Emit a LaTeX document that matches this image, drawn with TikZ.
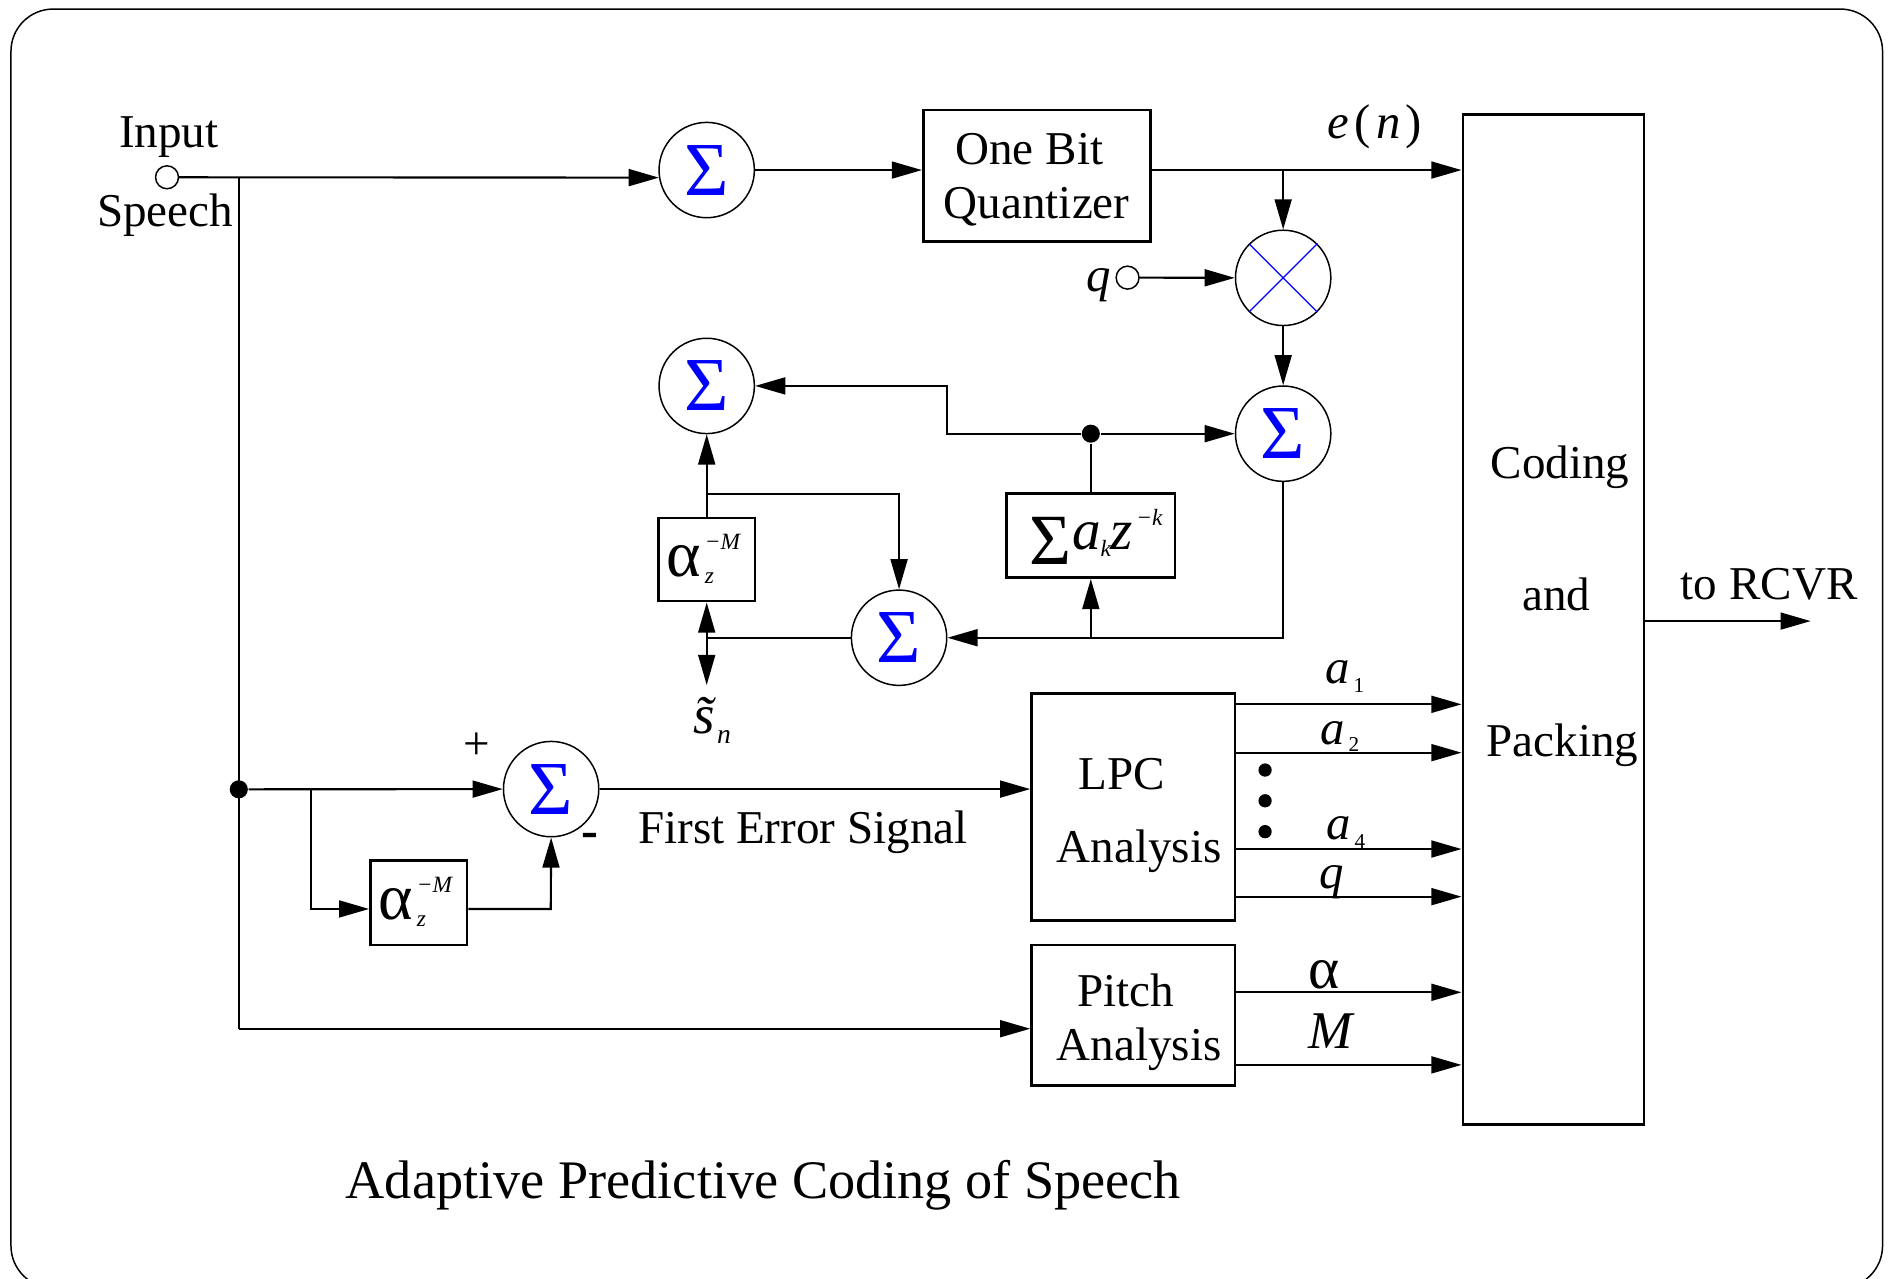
\documentclass[tikz,border=0pt]{standalone}
\usepackage{fontspec}
\setmainfont{Liberation Serif}
\usetikzlibrary{arrows.meta}
\newcommand{\alphaz}{{\fontsize{15.5}{16}\selectfont α}\kern0.9pt\rlap{\raisebox{6.3pt}{\fontsize{5.5}{5.5}\selectfont\itshape −M}}\raisebox{-1.7pt}{\fontsize{5.5}{5.5}\selectfont\itshape z}}
\begin{document}
\begin{tikzpicture}[x=0.01cm,y=-0.01cm,
  conn/.style={line width=0.5pt},
  arr/.style={conn,-{Triangle[length=0.25cm,width=0.14cm]}},
  sumc/.style={circle,draw,line width=0.35pt,minimum size=0.79cm,inner sep=0pt,text=blue,font=\fontsize{18}{18}\selectfont},
  hollow/.style={circle,draw,fill=white,line width=0.35pt,minimum size=0.19cm,inner sep=0pt},
  jdot/.style={circle,fill=black,minimum size=0.15cm,inner sep=0pt},
  sdot/.style={circle,fill=black,minimum size=0.11cm,inner sep=0pt},
  blk/.style={draw,line width=0.6pt,inner sep=0pt},
  lbl/.style={inner sep=0pt,anchor=base,font=\fontsize{11.1}{12}\selectfont},
  captext/.style={inner sep=0pt,anchor=base,font=\fontsize{12.8}{14}\selectfont},
  bw/.style={inner sep=0pt,anchor=base west}]
\useasboundingbox (0,0) rectangle (1568,1060);
\begin{scope}
\clip (0,0) rectangle (1568,1060);
\draw[line width=0.35pt,rounded corners=0.35cm] (9.1,7.5) rectangle (1561,1068);
\end{scope}

% ---------- blocks ----------
\node[blk,minimum width=1.885cm,minimum height=1.092cm] (quant) at (859.85,145.8) {};
\node[blk,minimum width=1.686cm,minimum height=1.88cm] (lpc) at (939.7,669) {};
\node[blk,minimum width=1.686cm,minimum height=1.164cm] (pitch) at (939.7,841.8) {};
\node[blk,minimum width=1.503cm,minimum height=8.369cm] (code) at (1288.15,513.55) {};
\node[blk,minimum width=1.396cm,minimum height=0.697cm] (sbox) at (904.5,444.15) {};
\node[blk,minimum width=0.8cm,minimum height=0.69cm] (ab1) at (586,464) {};
\node[blk,minimum width=0.8cm,minimum height=0.699cm] (ab2) at (347.2,748.65) {};

% ---------- summers ----------
\node[sumc] (s1) at (586,141) {Σ};
\node[sumc] (s2) at (586,320) {Σ};
\node[sumc] (s3) at (1064,359.6) {Σ};
\node[sumc] (s4) at (745.5,528.8) {Σ};
\node[sumc] (s5) at (457,654.3) {Σ};
\node[circle,draw,line width=0.35pt,minimum size=0.79cm,inner sep=0pt] (mult) at (1064,230.4) {};
\draw[blue,line width=0.3pt] (mult.45) -- (mult.225) (mult.135) -- (mult.315);

% ---------- terminals and junctions ----------
\node[hollow] (inc) at (138.5,147) {};
\node[hollow] (qc) at (935,230.2) {};
\node[jdot] (j1) at (198,654.5) {};
\node[jdot] (j2) at (904.5,359.6) {};
\node[sdot] (d1) at (1049,638.5) {};
\node[sdot] (d2) at (1049,664) {};
\node[sdot] (d3) at (1049,689.6) {};

\coordinate (ja) at (198,147);
\coordinate (jb) at (198,853);
\coordinate (jq) at (1064,141);
\coordinate (k1) at (785,359.6);
\coordinate (k2) at (785,320);
\coordinate (k3) at (1064,528.8);
\coordinate (k4) at (904.5,528.8);
\coordinate (jd) at (586,528.8);
\coordinate (snt) at (586,568);
\coordinate (ju) at (586,409.3);
\coordinate (k5) at (745.5,409.3);
\coordinate (jl) at (257.7,654.5);
\coordinate (k6) at (257.7,753.7);
\coordinate (k7) at (456.7,753.7);
\coordinate (ya1) at (0,584);
\coordinate (ya2) at (0,624.1);
\coordinate (ya4) at (0,704);
\coordinate (yq) at (0,743.5);
\coordinate (yal) at (0,822.8);
\coordinate (yM) at (0,883);
\coordinate (yr) at (0,515);
\coordinate (rcvr) at (1501.4,515);

% ---------- connectors ----------
\draw[arr] (inc.east) -- (s1.189);
\draw[conn] (ja) -- (jb);
\draw[arr] (jb) -- (pitch.west |- jb);
\draw[arr] (s1.east) -- (quant.west |- s1.east);
\draw[arr] (quant.east |- s1.east) -- (code.west |- s1.east);
\draw[arr] (jq) -- (mult.north);
\draw[arr] (qc.east) -- (mult.west);
\draw[arr] (mult.south) -- (s3.north);
\draw[arr] (j2) -- (s3.west);
\draw[conn] (sbox.north) -- (j2);
\draw[arr] (j2) -- (k1) -- (k2) -- (s2.east);
\draw[arr] (s3.south) -- (k3) -- (s4.east);
\draw[arr] (k4) -- (sbox.south);
\draw[conn] (s4.west) -- (jd);
\draw[arr] (jd) -- (ab1.south);
\draw[arr] (jd) -- (snt);
\draw[arr] (ab1.north) -- (s2.south);
\draw[arr] (ju) -- (k5) -- (s4.north);
\draw[arr] (j1) -- (s5.west);
\draw[arr] (jl) -- (k6) -- (ab2.west |- k6);
\draw[arr] (ab2.east |- k6) -- (k7) -- (s5.south);
\draw[arr] (s5.east) -- (lpc.west |- s5.east);
\draw[arr] (lpc.east |- ya1) -- (code.west |- ya1);
\draw[arr] (lpc.east |- ya2) -- (code.west |- ya2);
\draw[arr] (lpc.east |- ya4) -- (code.west |- ya4);
\draw[arr] (lpc.east |- yq) -- (code.west |- yq);
\draw[arr] (pitch.east |- yal) -- (code.west |- yal);
\draw[arr] (pitch.east |- yM) -- (code.west |- yM);
\draw[arr] (code.east |- yr) -- (rcvr);

% ---------- texts ----------
\node[lbl] (tin) at (140,122) {Input};
\node[lbl] (tsp) at (137,188) {Speech};
\node[lbl] (tq1) at (853.5,136.8) {One Bit};
\node[lbl] (tq2) at (859.6,181) {Quantizer};
\node[lbl] (tlpc) at (930,655) {LPC};
\node[lbl] (tlan) at (944.6,715.3) {Analysis};
\node[lbl] (tpi) at (933.5,834.7) {Pitch};
\node[lbl] (tpan) at (944.6,879) {Analysis};
\node[lbl] (tc1) at (1293.5,397) {Coding};
\node[lbl] (tc2) at (1290.6,506.6) {and};
\node[lbl] (tc3) at (1295.7,626.9) {Packing};
\node[lbl] (trc) at (1467,497) {to RCVR};
\node[lbl] (tfe) at (665.7,699.3) {First Error Signal};
\node[lbl] (tplus) at (395.7,630) {+};
\node[lbl,font=\fontsize{12}{12}\selectfont\bfseries] (tminus) at (489.4,703) {-};
\node[captext] (tcap) at (633,993.6) {Adaptive Predictive Coding of Speech};

\node[lbl,font=\fontsize{11.5}{12}\selectfont] (ten) at (1140,114.7) {\textit{e}\kern1.2pt(\kern1.2pt\textit{n}\kern1.2pt)};
\node[lbl,font=\fontsize{11.5}{12}\selectfont\itshape] (tq) at (911,241.8) {q};

\node[bw,font=\fontsize{11.5}{12}\selectfont] (ta1) at (1098.7,566.6) {\textit{a}\kern0.8pt\raisebox{-2.2pt}{\fontsize{5}{5}\selectfont 1}};
\node[bw,font=\fontsize{11.5}{12}\selectfont] (ta2) at (1094.6,617.7) {\textit{a}\kern0.8pt\raisebox{-1.6pt}{\fontsize{5}{5}\selectfont 2}};
\node[bw,font=\fontsize{11.5}{12}\selectfont] (ta4) at (1099.5,696.5) {\textit{a}\kern0.8pt\raisebox{-2pt}{\fontsize{5}{5}\selectfont 4}};
\node[lbl,font=\fontsize{11.5}{12}\selectfont\itshape] (tq2b) at (1104,736.6) {q};
\node[lbl,font=\fontsize{14}{14}\selectfont] (tal) at (1098,819.5) {α};
\node[lbl,font=\fontsize{12.5}{13}\selectfont\itshape] (tM) at (1103.5,869.3) {M};

\node[bw,font=\fontsize{13}{13}\selectfont\itshape] (tsn) at (574,608) {\~{s}\kern0.6pt\raisebox{-2.3pt}{\fontsize{6.5}{6.5}\selectfont n}};

% alpha boxes
\node[bw] (al1) at (552,478) {\alphaz};
\node[bw] (al2) at (313.2,762.2) {\alphaz};

% sum box
\node[bw,font=\fontsize{17}{17}\selectfont] (sbs) at (853,468) {Σ};
\node[bw,font=\fontsize{13.5}{13.5}\selectfont\itshape] (sba) at (889,456) {a};
\node[bw,font=\fontsize{5.5}{5.5}\selectfont\itshape] (sbk) at (912,461.6) {k};
\node[bw,font=\fontsize{13.5}{13.5}\selectfont\itshape] (sbz) at (920,456) {z};
\node[bw,font=\fontsize{5.5}{5.5}\selectfont\itshape] (sbe) at (941.6,435.6) {−k};
\end{tikzpicture}
\end{document}
